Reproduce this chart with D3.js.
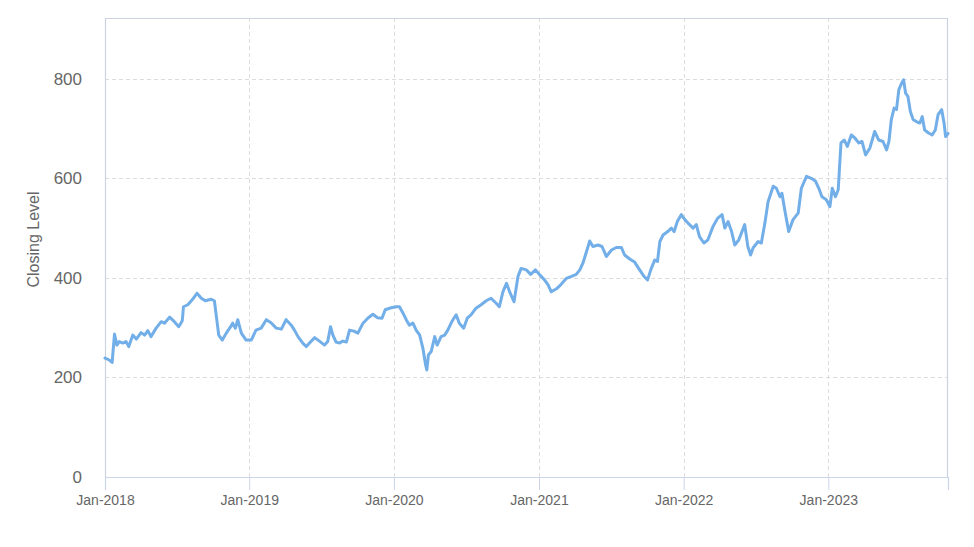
<!DOCTYPE html>
<html>
<head>
<meta charset="utf-8">
<script src="https://cdn.jsdelivr.net/npm/d3@7"></script>
<style>
  html, body { margin: 0; padding: 0; background: #ffffff; }
  svg { display: block; font-family: "Liberation Sans", Arial, sans-serif; }
</style>
</head>
<body>
<svg id="chart" width="974" height="547"></svg>
<script>
// ---- data ----
const dates = [
  "2018-01-02","2018-01-13","2018-01-20","2018-01-26","2018-02-01","2018-02-07","2018-02-16","2018-02-24",
  "2018-03-03","2018-03-13","2018-03-22","2018-04-03","2018-04-12","2018-04-20","2018-04-28","2018-05-11",
  "2018-05-24","2018-06-01","2018-06-14","2018-06-26","2018-07-07","2018-07-16","2018-07-19","2018-07-30",
  "2018-08-10","2018-08-22","2018-09-02","2018-09-12","2018-09-27","2018-10-05","2018-10-11","2018-10-16",
  "2018-10-25","2018-11-04","2018-11-15","2018-11-20","2018-11-27","2018-12-03","2018-12-12","2018-12-24",
  "2019-01-06","2019-01-18","2019-01-31","2019-02-13","2019-02-25","2019-03-10","2019-03-23","2019-04-04",
  "2019-04-17","2019-04-25","2019-05-04","2019-05-16","2019-05-25","2019-06-02","2019-06-15","2019-06-27",
  "2019-07-10","2019-07-18","2019-07-25","2019-07-31","2019-08-08","2019-08-17","2019-08-25","2019-09-03",
  "2019-09-11","2019-09-22","2019-10-02","2019-10-15","2019-10-27","2019-11-09","2019-11-20","2019-12-02",
  "2019-12-10","2019-12-25","2020-01-07","2020-01-15","2020-01-24","2020-02-01","2020-02-09","2020-02-18",
  "2020-02-26","2020-03-06","2020-03-14","2020-03-21","2020-03-24","2020-03-28","2020-04-04","2020-04-13",
  "2020-04-19","2020-04-29","2020-05-08","2020-05-16","2020-05-26","2020-06-06","2020-06-14","2020-06-25",
  "2020-07-04","2020-07-14","2020-07-26","2020-08-08","2020-08-21","2020-09-02","2020-09-15","2020-09-23",
  "2020-10-02","2020-10-11","2020-10-19","2020-10-30","2020-11-09","2020-11-17","2020-11-30","2020-12-11",
  "2020-12-23","2021-01-03","2021-01-15","2021-01-24","2021-02-01","2021-02-14","2021-02-26","2021-03-11",
  "2021-03-24","2021-04-05","2021-04-14","2021-04-22","2021-05-01","2021-05-09","2021-05-17","2021-05-30",
  "2021-06-09","2021-06-20","2021-07-03","2021-07-15","2021-07-28","2021-08-05","2021-08-18","2021-08-30",
  "2021-09-12","2021-09-23","2021-10-02","2021-10-10","2021-10-20","2021-10-27","2021-11-02","2021-11-10",
  "2021-11-22","2021-12-01","2021-12-08","2021-12-16","2021-12-26","2022-01-04","2022-01-12","2022-01-25",
  "2022-02-02","2022-02-10","2022-02-21","2022-03-03","2022-03-16","2022-03-28","2022-04-08","2022-04-15",
  "2022-04-23","2022-05-02","2022-05-10","2022-05-20","2022-06-04","2022-06-12","2022-06-19","2022-06-25",
  "2022-07-08","2022-07-16","2022-07-25","2022-08-02","2022-08-15","2022-08-23","2022-09-01","2022-09-06",
  "2022-09-13","2022-09-23","2022-10-04","2022-10-17","2022-10-25","2022-11-07","2022-11-19","2022-11-30",
  "2022-12-08","2022-12-16","2022-12-27","2023-01-05","2023-01-11","2023-01-19","2023-01-26","2023-02-02",
  "2023-02-10","2023-02-18","2023-02-28","2023-03-09","2023-03-19","2023-03-27","2023-04-05","2023-04-16",
  "2023-04-28","2023-05-08","2023-05-19","2023-05-28","2023-06-03","2023-06-09","2023-06-16","2023-06-22",
  "2023-06-28","2023-07-05","2023-07-10","2023-07-15","2023-07-21","2023-07-27","2023-08-03","2023-08-11",
  "2023-08-20","2023-08-26","2023-09-01","2023-09-11","2023-09-20","2023-09-28","2023-10-05","2023-10-14",
  "2023-10-20","2023-10-24","2023-10-30"
];
const closing = [
  239,235,230,287,265,272,269,272,
  262,285,277,290,285,294,282,299,
  312,309,321,312,302,314,342,346,
  356,369,359,354,357,354,316,285,
  275,289,302,309,299,316,289,275,
  275,295,299,316,310,299,297,316,
  305,295,282,269,262,269,280,273,
  265,272,302,285,271,269,273,271,
  295,293,289,309,319,327,320,319,
  336,340,342,342,329,316,305,309,
  295,285,259,225,215,245,252,282,
  265,282,285,295,312,326,309,299,
  319,326,339,346,354,359,349,342,
  372,389,372,352,403,419,416,407,
  416,406,396,386,372,378,387,399,
  403,407,416,430,453,474,463,466,
  463,443,456,461,461,446,438,432,
  416,403,396,416,436,433,473,486,
  493,500,493,513,527,517,510,500,
  507,483,470,476,503,520,527,500,
  513,493,466,476,507,463,446,460,
  473,470,510,553,584,580,563,570,
  537,493,517,530,580,604,600,594,
  580,563,557,543,580,563,577,671,
  677,664,687,681,671,674,647,661,
  694,677,674,657,674,718,741,738,
  778,791,798,771,764,734,718,714,
  711,724,697,691,687,697,728,738,
  711,684,690
];
const yTicks = [0, 200, 400, 600, 800];
const yTitle = "Closing Level";

// ---- layout ----
const padL = 105, padR = 948, padT = 18, padB = 477;
const parse = d3.timeParse("%Y-%m-%d");
const data = dates.map((d, i) => ({ date: parse(d), value: closing[i] }));

const x = d3.scaleTime().domain(d3.extent(data, d => d.date)).range([padL, padR]);
const y = d3.scaleLinear().domain([0, 922]).range([padB, padT]);

const svg = d3.select("#chart");

// tick dates: each January, the first one clamped to the domain start
const yearStarts = d3.timeYear.range(new Date(2018, 0, 1), new Date(2024, 0, 1));
const xTickPos = yearStarts.map(d => d < x.domain()[0] ? x.domain()[0] : d);

// gridlines
svg.append("g").selectAll("line").data(yTicks.filter(v => v > 0)).join("line")
  .attr("x1", padL).attr("x2", padR)
  .attr("y1", d => Math.round(y(d)) + 0.5).attr("y2", d => Math.round(y(d)) + 0.5)
  .attr("stroke", "#dcdcdc").attr("stroke-width", 1).attr("stroke-dasharray", "4,3");

svg.append("g").selectAll("line").data(xTickPos.slice(1)).join("line")
  .attr("x1", d => Math.round(x(d)) + 0.5).attr("x2", d => Math.round(x(d)) + 0.5)
  .attr("y1", padT).attr("y2", padB)
  .attr("stroke", "#dcdcdc").attr("stroke-width", 1).attr("stroke-dasharray", "4,3");

// plot frame
svg.append("path")
  .attr("d", `M${padL + 0.5},${padB} V${padT + 0.5} H${padR - 0.5} V${padB}`)
  .attr("fill", "none").attr("stroke", "#ccd3e0").attr("stroke-width", 1.2);

// line
const line = d3.line().x(d => x(d.date)).y(d => y(d.value)).curve(d3.curveLinear);
svg.append("path").datum(data)
  .attr("d", line)
  .attr("fill", "none")
  .attr("stroke", "#72aee8")
  .attr("stroke-width", 3)
  .attr("stroke-linejoin", "round")
  .attr("stroke-linecap", "round");

// x axis
const fmt = d3.timeFormat("%b-%Y");
const xAxis = d3.axisBottom(x)
  .tickValues(xTickPos)
  .tickFormat((d, i) => fmt(yearStarts[i]))
  .tickSize(13).tickPadding(5);
const gx = svg.append("g").attr("transform", `translate(0,${padB})`).call(xAxis);
gx.select(".domain").attr("stroke", "#ccd6eb").attr("stroke-width", 1.2);
gx.selectAll(".tick line").attr("stroke", "#ccd6eb");
gx.selectAll(".tick text").attr("fill", "#666666").attr("font-size", "14px")
  .attr("font-family", "'Liberation Sans', Arial, sans-serif");

// y axis
const yAxis = d3.axisLeft(y).tickValues(yTicks).tickSize(0).tickPadding(23);
const gy = svg.append("g").attr("transform", `translate(${padL},0)`).call(yAxis);
gy.select(".domain").remove();
gy.selectAll(".tick text").attr("fill", "#666666").attr("font-size", "17px")
  .attr("font-family", "'Liberation Sans', Arial, sans-serif");

// y title
svg.append("text")
  .attr("transform", `translate(39,${(padT + padB) / 2 - 8}) rotate(-90)`)
  .attr("text-anchor", "middle")
  .attr("fill", "#666666").attr("font-size", "16px")
  .attr("font-family", "'Liberation Sans', Arial, sans-serif")
  .text(yTitle);
</script>
</body>
</html>
